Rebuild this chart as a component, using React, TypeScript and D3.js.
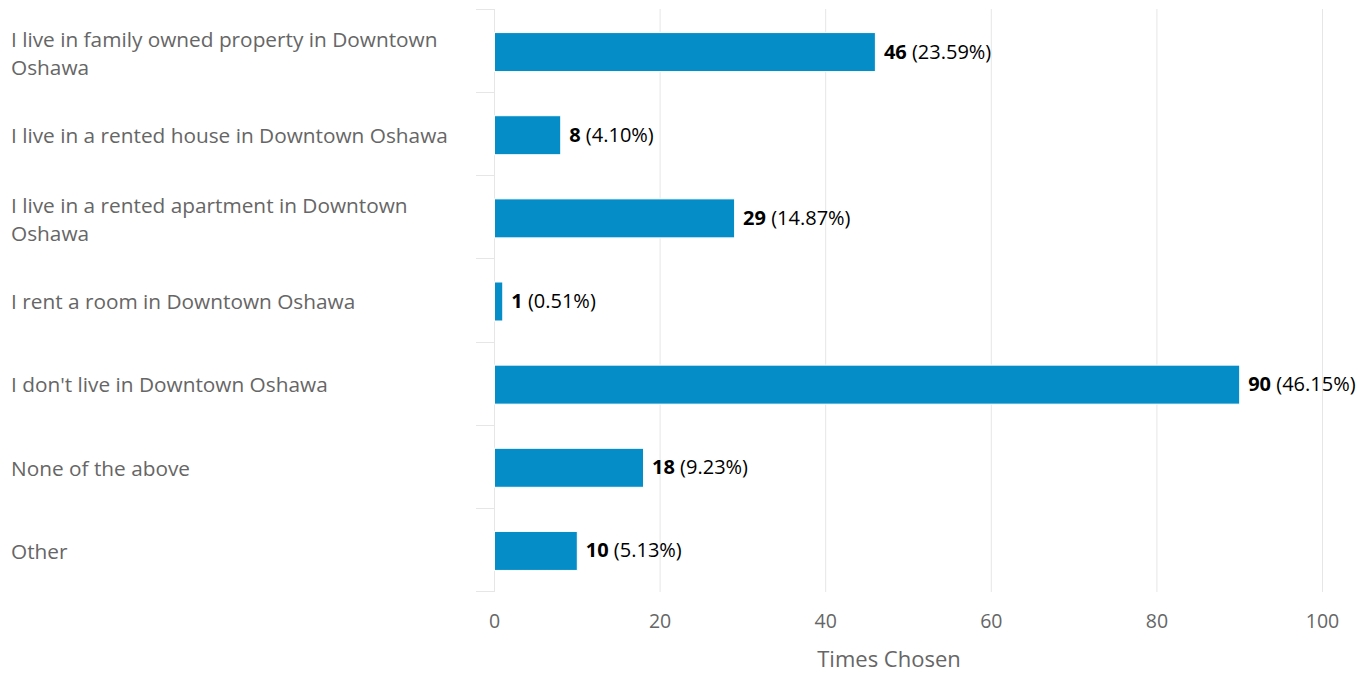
import React, { useEffect, useRef } from 'react';
import { axisBottom, scaleBand, scaleLinear, select } from 'd3';

const categories = [
  'I live in family owned property in Downtown Oshawa',
  'I live in a rented house in Downtown Oshawa',
  'I live in a rented apartment in Downtown Oshawa',
  'I rent a room in Downtown Oshawa',
  "I don't live in Downtown Oshawa",
  'None of the above',
  'Other',
];
const counts = [46, 8, 29, 1, 90, 18, 10];
const percents = ['23.59%', '4.10%', '14.87%', '0.51%', '46.15%', '9.23%', '5.13%'];
const xTicks = [0, 20, 40, 60, 80, 100];

const W = 1370;
const H = 673;
const FONT = '"Open Sans", sans-serif';

const App: React.FC = () => {
  const svgRef = useRef<SVGSVGElement>(null);

  useEffect(() => {
    const svg = select(svgRef.current);
    svg.selectAll('*').remove();

    const left = 494;
    const right = 1322;
    const top = 10;
    const bottom = 592;

    const x = scaleLinear().domain([0, 100]).range([left, right]);
    const y = scaleBand<number>()
      .domain(categories.map((_, i) => i))
      .range([top, bottom])
      .paddingInner(0)
      .paddingOuter(0);

    // grid
    svg
      .append('g')
      .selectAll('line')
      .data(xTicks)
      .join('line')
      .attr('x1', (d) => x(d) + 0.5)
      .attr('x2', (d) => x(d) + 0.5)
      .attr('y1', top - 1)
      .attr('y2', bottom)
      .attr('stroke', '#e6e6e6')
      .attr('stroke-width', 1);

    // category tick marks
    const edges = categories.map((_, i) => y(i)!).concat([bottom]);
    svg
      .append('g')
      .selectAll('line')
      .data(edges)
      .join('line')
      .attr('x1', left - 18)
      .attr('x2', left + 0.5)
      .attr('y1', (d) => Math.round(d) - 0.5)
      .attr('y2', (d) => Math.round(d) - 0.5)
      .attr('stroke', '#e6e6e6')
      .attr('stroke-width', 1);

    // y axis line
    svg
      .append('line')
      .attr('x1', left + 0.5)
      .attr('x2', left + 0.5)
      .attr('y1', top - 1)
      .attr('y2', bottom)
      .attr('stroke', '#e6e6e6');

    // bars
    const barH = 39;
    svg
      .append('g')
      .selectAll('rect')
      .data(counts)
      .join('rect')
      .attr('x', x(0) + 0.5)
      .attr('y', (_, i) => y(i)! + y.bandwidth() / 2 - barH / 2 + 0.5)
      .attr('width', (d) => x(d) - x(0))
      .attr('height', barH)
      .attr('fill', '#058dc7')
      .attr('stroke', '#ffffff')
      .attr('stroke-width', 1);

    // data labels
    const labels = svg
      .append('g')
      .selectAll('text')
      .data(counts)
      .join('text')
      .attr('x', (d) => x(d) + 9)
      .attr('y', (_, i) => y(i)! + y.bandwidth() / 2)
      .attr('dy', '0.35em')
      .attr('font-family', FONT)
      .attr('font-size', 20)
      .attr('fill', '#000');
    labels
      .append('tspan')
      .attr('font-weight', 'bold')
      .text((d) => `${d}`);
    labels.append('tspan').text((_, i) => ` (${percents[i]})`);

    // category labels with wrapping
    const catG = svg.append('g');
    categories.forEach((c, i) => {
      const t = catG
        .append('text')
        .attr('x', 11)
        .attr('font-family', FONT)
        .attr('font-size', 20.8)
        .attr('fill', '#666666');
      const words = c.split(' ');
      const lines: string[] = [];
      let cur = '';
      const probe = t.append('tspan');
      words.forEach((w) => {
        const test = cur ? `${cur} ${w}` : w;
        probe.text(test);
        if ((probe.node() as SVGTSpanElement).getComputedTextLength() > 450 && cur) {
          lines.push(cur);
          cur = w;
        } else {
          cur = test;
        }
      });
      lines.push(cur);
      probe.remove();
      const lh = 28;
      const shift = lines.length > 1 ? 2 : 1;
      const cy = y(i)! + y.bandwidth() / 2 + shift - ((lines.length - 1) * lh) / 2;
      lines.forEach((l, j) => {
        t.append('tspan')
          .attr('x', 11)
          .attr('y', cy + j * lh)
          .attr('dy', '0.35em')
          .text(l);
      });
    });

    // x axis
    const xAxis = axisBottom(x).tickValues(xTicks).tickSize(0).tickPadding(22);
    const gx = svg.append('g').attr('transform', `translate(0,${bottom})`).call(xAxis);
    gx.select('.domain').remove();
    gx.selectAll('text')
      .attr('font-family', FONT)
      .attr('font-size', 19.5)
      .attr('fill', '#666666');

    svg
      .append('text')
      .attr('x', 889)
      .attr('y', 659)
      .attr('dy', '0.35em')
      .attr('text-anchor', 'middle')
      .attr('font-family', FONT)
      .attr('font-size', 22)
      .attr('fill', '#666666')
      .text('Times Chosen');
  }, []);

  return (
    <svg
      ref={svgRef}
      width={W}
      height={H}
      style={{ position: 'absolute', left: 0, top: 0, background: '#fff' }}
    />
  );
};

export default App;
